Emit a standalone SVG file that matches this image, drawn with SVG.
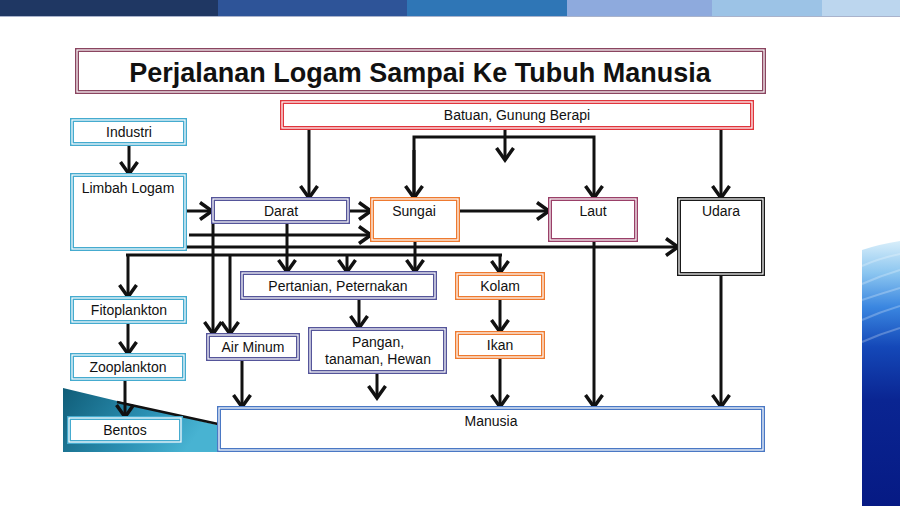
<svg xmlns="http://www.w3.org/2000/svg" width="900" height="506" viewBox="0 0 900 506">
<defs>
<style>
.o{fill:#fff;stroke-width:4}
.i{fill:none;stroke:#fff;stroke-width:1.2}
.t{font-family:"Liberation Sans",Arial,sans-serif;font-size:14px;fill:#111;text-anchor:middle}
.cy{stroke:#45abcf}.pu{stroke:#55559a}.or{stroke:#ee7a30}.ma{stroke:#9a4068}.bk{stroke:#1a1a1a}.rd{stroke:#e0353c}.bl{stroke:#4a78c4}.ti{stroke:#8a4560}
#connectors line,#connectors path{stroke:#111;stroke-width:3;fill:none}
</style>
<marker id="a" viewBox="0 0 20 20" refX="17" refY="10" markerWidth="20" markerHeight="20" markerUnits="userSpaceOnUse" orient="auto">
<path d="M5,1.5 L17,10 L5,18.5" fill="none" stroke="#111" stroke-width="3.5"/>
</marker>
<linearGradient id="gw" x1="0" y1="0" x2="1" y2="0.3">
<stop offset="0" stop-color="#105d78"/><stop offset="0.6" stop-color="#2a8fb2"/><stop offset="1" stop-color="#48b3d2"/>
</linearGradient>
<linearGradient id="gr" x1="0" y1="0" x2="0" y2="1">
<stop offset="0" stop-color="#d8eefa"/><stop offset="0.12" stop-color="#8cc6f0"/><stop offset="0.25" stop-color="#3a86e0"/><stop offset="0.4" stop-color="#1448b8"/><stop offset="0.6" stop-color="#0a2592"/><stop offset="1" stop-color="#061a84"/>
</linearGradient>
</defs>
<rect width="900" height="506" fill="#fff"/>
<!-- top bar -->
<rect x="0" y="0" width="218" height="16" fill="#1f3763"/>
<rect x="218" y="0" width="189" height="16" fill="#2e5498"/>
<rect x="407" y="0" width="160" height="16" fill="#2f76b6"/>
<rect x="567" y="0" width="145" height="16" fill="#8eaadd"/>
<rect x="712" y="0" width="110" height="16" fill="#9cc3e6"/>
<rect x="822" y="0" width="78" height="16" fill="#bcd6ee"/>
<rect x="0" y="16" width="900" height="1" fill="#a9b3cc"/>
<!-- decorations -->
<polygon points="63,388 217,425 217,452 63,452" fill="url(#gw)"/>
<line x1="117" y1="402" x2="218" y2="424" stroke="#111" stroke-width="2.5"/>
<path d="M862,250 Q880,244 900,241 L900,506 L862,506 Z" fill="url(#gr)"/>
<path d="M862,266 Q880,258 900,254 M862,284 Q880,276 900,270 M862,300 Q880,294 900,288 M862,320 Q880,312 900,306 M862,342 Q880,334 900,328" stroke="#ffffff" stroke-opacity="0.25" stroke-width="2" fill="none"/>
<!-- title -->
<g id="title">
<rect class="o ti" x="77" y="50" width="687" height="42"/><rect class="i" x="77" y="50" width="687" height="42"/>
<text x="420" y="82" font-family="Liberation Sans,Arial,sans-serif" font-size="27" font-weight="bold" text-anchor="middle" fill="#111">Perjalanan Logam Sampai Ke Tubuh Manusia</text>
</g>
<!-- connectors -->
<g id="connectors">
<line x1="129" y1="145" x2="129" y2="174" marker-end="url(#a)"/>
<line x1="309" y1="129" x2="309" y2="198" marker-end="url(#a)"/>
<line x1="505" y1="129" x2="505" y2="160" marker-end="url(#a)"/>
<path d="M414,198 L414,137 L594,137 L594,198" marker-end="url(#a)"/>
<line x1="414" y1="150" x2="414" y2="198" marker-end="url(#a)"/>
<line x1="721" y1="129" x2="721" y2="198" marker-end="url(#a)"/>
<line x1="187" y1="211" x2="212" y2="211" marker-end="url(#a)"/>
<line x1="350" y1="211" x2="371" y2="211" marker-end="url(#a)"/>
<line x1="459" y1="211" x2="549" y2="211" marker-end="url(#a)"/>
<line x1="189" y1="235" x2="371" y2="235" marker-end="url(#a)"/>
<line x1="187" y1="247" x2="678" y2="247" marker-end="url(#a)"/>
<line x1="126" y1="255" x2="502" y2="255"/>
<line x1="128" y1="255" x2="128" y2="297" marker-end="url(#a)"/>
<line x1="128" y1="323" x2="128" y2="354" marker-end="url(#a)"/>
<line x1="125" y1="380" x2="125" y2="417" marker-end="url(#a)"/>
<line x1="213" y1="223" x2="213" y2="334" marker-end="url(#a)"/>
<line x1="230" y1="255" x2="230" y2="334" marker-end="url(#a)"/>
<line x1="287" y1="223" x2="287" y2="272" marker-end="url(#a)"/>
<line x1="347" y1="255" x2="347" y2="272" marker-end="url(#a)"/>
<line x1="415" y1="241" x2="415" y2="272" marker-end="url(#a)"/>
<line x1="500" y1="255" x2="500" y2="273" marker-end="url(#a)"/>
<line x1="359" y1="299" x2="359" y2="328" marker-end="url(#a)"/>
<line x1="500" y1="299" x2="500" y2="332" marker-end="url(#a)"/>
<line x1="242" y1="360" x2="242" y2="407" marker-end="url(#a)"/>
<line x1="377" y1="373" x2="377" y2="398" marker-end="url(#a)"/>
<line x1="500" y1="359" x2="500" y2="407" marker-end="url(#a)"/>
<line x1="594" y1="241" x2="594" y2="407" marker-end="url(#a)"/>
<line x1="721" y1="275" x2="721" y2="407" marker-end="url(#a)"/>
</g>
<!-- nodes -->
<g id="batuan"><rect class="o rd" x="282" y="102" width="470" height="26"/><rect class="i" x="282" y="102" width="470" height="26"/><text class="t" x="517" y="120">Batuan, Gunung Berapi</text></g>
<g id="industri"><rect class="o cy" x="72" y="120" width="113" height="24"/><rect class="i" x="72" y="120" width="113" height="24"/><text class="t" x="129" y="137">Industri</text></g>
<g id="limbah"><rect class="o cy" x="72" y="175" width="113" height="74"/><rect class="i" x="72" y="175" width="113" height="74"/><text class="t" x="128" y="193">Limbah Logam</text></g>
<g id="darat"><rect class="o pu" x="213" y="199" width="135" height="23"/><rect class="i" x="213" y="199" width="135" height="23"/><text class="t" x="281" y="216">Darat</text></g>
<g id="sungai"><rect class="o or" x="372" y="199" width="86" height="41"/><rect class="i" x="372" y="199" width="86" height="41"/><text class="t" x="414" y="216">Sungai</text></g>
<g id="laut"><rect class="o ma" x="550" y="199" width="86" height="41"/><rect class="i" x="550" y="199" width="86" height="41"/><text class="t" x="593" y="216">Laut</text></g>
<g id="udara"><rect class="o bk" x="679" y="199" width="84" height="75"/><rect class="i" x="679" y="199" width="84" height="75"/><text class="t" x="721" y="216">Udara</text></g>
<g id="pertanian"><rect class="o pu" x="242" y="273" width="193" height="25"/><rect class="i" x="242" y="273" width="193" height="25"/><text class="t" x="338" y="291">Pertanian, Peternakan</text></g>
<g id="kolam"><rect class="o or" x="457" y="274" width="86" height="24"/><rect class="i" x="457" y="274" width="86" height="24"/><text class="t" x="500" y="291">Kolam</text></g>
<g id="fito"><rect class="o cy" x="72" y="298" width="113" height="24"/><rect class="i" x="72" y="298" width="113" height="24"/><text class="t" x="129" y="315">Fitoplankton</text></g>
<g id="airminum"><rect class="o pu" x="208" y="335" width="90" height="24"/><rect class="i" x="208" y="335" width="90" height="24"/><text class="t" x="253" y="352">Air Minum</text></g>
<g id="pangan"><rect class="o pu" x="310" y="329" width="135" height="43"/><rect class="i" x="310" y="329" width="135" height="43"/><text class="t" x="378" y="347">Pangan,</text><text class="t" x="378" y="364">tanaman, Hewan</text></g>
<g id="ikan"><rect class="o or" x="457" y="333" width="86" height="24"/><rect class="i" x="457" y="333" width="86" height="24"/><text class="t" x="500" y="350">Ikan</text></g>
<g id="zoo"><rect class="o cy" x="72" y="355" width="112" height="24"/><rect class="i" x="72" y="355" width="112" height="24"/><text class="t" x="128" y="372">Zooplankton</text></g>
<g id="bentos"><rect class="o cy" x="69" y="418" width="112" height="24"/><rect class="i" x="69" y="418" width="112" height="24"/><text class="t" x="125" y="435">Bentos</text></g>
<g id="manusia"><rect class="o bl" x="219" y="408" width="544" height="42"/><rect class="i" x="219" y="408" width="544" height="42"/><text class="t" x="491" y="426">Manusia</text></g>
</svg>
